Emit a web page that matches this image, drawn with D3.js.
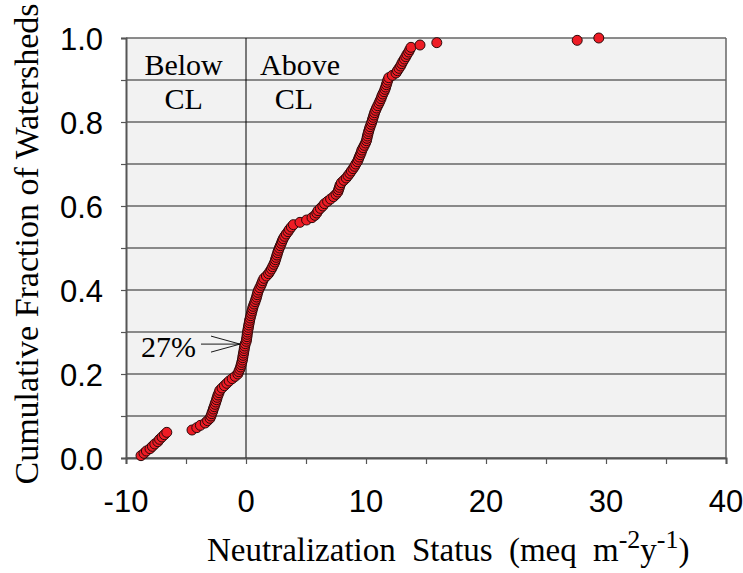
<!DOCTYPE html>
<html>
<head>
<meta charset="utf-8">
<script src="https://cdn.jsdelivr.net/npm/d3@7"></script>
<style>
  html, body { margin: 0; padding: 0; background: #fff; }
  svg { display: block; }
</style>
</head>
<body>
<svg id="chart" width="743" height="573"></svg>
<script>
// ── Data ─────────────────────────────────────────────────────────────────────
// neutralization status of each watershed (meq m-2 y-1), sorted
const nsValues = [
  -8.75, -8.5, -8.3, -8.0, -7.8, -7.6, -7.35, -7.2, -7.0, -6.8, -6.6,
  -4.5, -4.1, -3.8, -3.4, -3.2, -3.0, -2.92, -2.85, -2.78, -2.72, -2.65,
  -2.58, -2.52, -2.45, -2.4, -2.33, -2.25, -2.18, -2.0, -1.8, -1.6, -1.4,
  -1.15, -0.9, -0.68, -0.6, -0.52, -0.45, -0.4, -0.35, -0.3, -0.27, -0.24,
  -0.2, -0.17, -0.14, -0.1, -0.06,
  0.02, 0.05, 0.08, 0.1, 0.13, 0.16, 0.2, 0.23, 0.27, 0.3, 0.35, 0.4,
  0.45, 0.5, 0.55, 0.6, 0.68, 0.75, 0.82, 0.88, 0.93, 0.98, 1.05, 1.15,
  1.25, 1.32, 1.4, 1.5, 1.7, 1.88, 2.0, 2.12, 2.22, 2.32, 2.4, 2.46, 2.52,
  2.58, 2.64, 2.7, 2.78, 2.86, 2.94, 3.02, 3.1, 3.22, 3.35, 3.5, 3.62,
  3.78, 3.95, 4.5, 5.05, 5.5, 5.75, 5.9, 6.0, 6.2, 6.4, 6.55, 6.8, 7.05,
  7.3, 7.5, 7.65, 7.72, 7.78, 7.84, 7.95, 8.15, 8.35, 8.5, 8.65, 8.78,
  8.92, 9.05, 9.15, 9.28, 9.36, 9.44, 9.52, 9.6, 9.66, 9.76, 9.86, 9.96,
  10.04, 10.08, 10.12, 10.17, 10.22, 10.28, 10.34, 10.42, 10.48, 10.54,
  10.6, 10.66, 10.72, 10.8, 10.88, 10.98, 11.08, 11.16, 11.25, 11.32,
  11.4, 11.5, 11.58, 11.64, 11.7, 11.76, 11.82, 11.9, 12.2, 12.5, 12.62,
  12.75, 12.88, 12.98, 13.08, 13.2, 13.32, 13.42, 13.55, 13.65, 13.75,
  14.5, 15.9, 27.6, 29.4
];

const xTicks      = [-10, 0, 10, 20, 30, 40];
const xMinorTicks = [-10, -5, 0, 5, 10, 15, 20, 25, 30, 35, 40];
const yTicks      = [0, 0.2, 0.4, 0.6, 0.8, 1.0];
const yGrid       = [0, 0.1, 0.2, 0.3, 0.4, 0.5, 0.6, 0.7, 0.8, 0.9, 1.0];

const regionLabels = [
  { lines: ["Below", "CL"], x: [-5.2, -5.2] },
  { lines: ["Above", "CL"], x: [4.5, 4.0] }
];
const belowLabel = "27%";
const belowFrac  = 0.27;

// ── Scales ───────────────────────────────────────────────────────────────────
const svg = d3.select("#chart");
const plotL = 126, plotR = 726, plotT = 38, plotB = 458;

const x = d3.scaleLinear().domain([-10, 40]).range([plotL, plotR]);
const y = d3.scaleLinear().domain([0, 1]).range([plotB, plotT]);

const sorted = nsValues.slice().sort((a, b) => a - b);
const n = sorted.length;
const points = sorted.map((v, i) => ({ v, f: (i + 1) / n }));

// ── Plot area ────────────────────────────────────────────────────────────────
svg.append("rect")
  .attr("x", plotL).attr("y", plotT)
  .attr("width", plotR - plotL).attr("height", plotB - plotT)
  .attr("fill", "#f2f2f2");

svg.append("g").selectAll("line").data(yGrid).join("line")
  .attr("x1", plotL).attr("x2", plotR)
  .attr("y1", d => y(d)).attr("y2", d => y(d))
  .attr("stroke", "#666").attr("stroke-width", 1.5);

svg.append("line")
  .attr("x1", plotR).attr("x2", plotR).attr("y1", plotT).attr("y2", plotB)
  .attr("stroke", "#666").attr("stroke-width", 1.5);

// critical load line at 0
svg.append("line")
  .attr("x1", x(0)).attr("x2", x(0)).attr("y1", plotT).attr("y2", plotB)
  .attr("stroke", "#000").attr("stroke-width", 1);

// ── Axes ─────────────────────────────────────────────────────────────────────
const xAxis = svg.append("g").attr("transform", `translate(0,${plotB})`)
  .call(d3.axisBottom(x).tickValues(xMinorTicks).tickSize(6).tickFormat(""));
const yAxis = svg.append("g").attr("transform", `translate(${plotL},0)`)
  .call(d3.axisLeft(y).tickValues(yGrid).tickSize(5).tickFormat(""));
[xAxis, yAxis].forEach(g => {
  g.select(".domain").attr("stroke", "#555").attr("stroke-width", 2);
  g.selectAll(".tick line").attr("stroke", "#555").attr("stroke-width", 1.2);
});

svg.append("g").selectAll("text").data(xTicks).join("text")
  .attr("x", d => x(d)).attr("y", 512)
  .attr("text-anchor", "middle")
  .attr("font-family", "Liberation Sans, Arial, sans-serif")
  .attr("font-size", 31)
  .text(d => d);

svg.append("g").selectAll("text").data(yTicks).join("text")
  .attr("x", 103).attr("y", d => y(d) + 11.5)
  .attr("text-anchor", "end")
  .attr("font-family", "Liberation Sans, Arial, sans-serif")
  .attr("font-size", 31)
  .text(d => d3.format(".1f")(d));

// ── Axis titles ──────────────────────────────────────────────────────────────
const serif = "Liberation Serif, Times New Roman, serif";

const xTitle = svg.append("text")
  .attr("x", 207).attr("y", 561)
  .attr("font-family", serif).attr("font-size", 33)
  .attr("word-spacing", 8);
xTitle.append("tspan").text("Neutralization Status (meq m");
xTitle.append("tspan").attr("dy", -13).attr("font-size", 26).text("-2");
xTitle.append("tspan").attr("dy", 13).text("y");
xTitle.append("tspan").attr("dy", -13).attr("font-size", 26).text("-1");
xTitle.append("tspan").attr("dy", 13).text(")");

svg.append("text")
  .attr("transform", "translate(38,244) rotate(-90)")
  .attr("text-anchor", "middle")
  .attr("font-family", serif).attr("font-size", 34)
  .text("Cumulative Fraction of Watersheds");

// ── Region labels ────────────────────────────────────────────────────────────
regionLabels.forEach(r => {
  r.lines.forEach((t, i) => {
    svg.append("text")
      .attr("x", x(r.x[i])).attr("y", 75 + i * 34)
      .attr("text-anchor", "middle")
      .attr("font-family", serif).attr("font-size", 30)
      .text(t);
  });
});

// ── Points ───────────────────────────────────────────────────────────────────
svg.append("g").selectAll("circle").data(points).join("circle")
  .attr("cx", d => x(d.v)).attr("cy", d => y(d.f))
  .attr("r", 5)
  .attr("fill", "#ee1c25")
  .attr("stroke", "#2a0a0a").attr("stroke-width", 1);

// ── 27% annotation ───────────────────────────────────────────────────────────
svg.append("text")
  .attr("x", 141).attr("y", 357)
  .attr("font-family", serif).attr("font-size", 30)
  .text(belowLabel);

const tipX = x(0) - 6, tipY = y(belowFrac) - 0.5;
const arrow = svg.append("g").attr("stroke", "#000").attr("stroke-width", 0.9).attr("fill", "none");
arrow.append("line").attr("x1", 201).attr("y1", tipY).attr("x2", tipX).attr("y2", tipY);
arrow.append("line").attr("x1", 211).attr("y1", tipY - 8).attr("x2", tipX).attr("y2", tipY);
arrow.append("line").attr("x1", 211).attr("y1", tipY + 8).attr("x2", tipX).attr("y2", tipY);
</script>
</body>
</html>
